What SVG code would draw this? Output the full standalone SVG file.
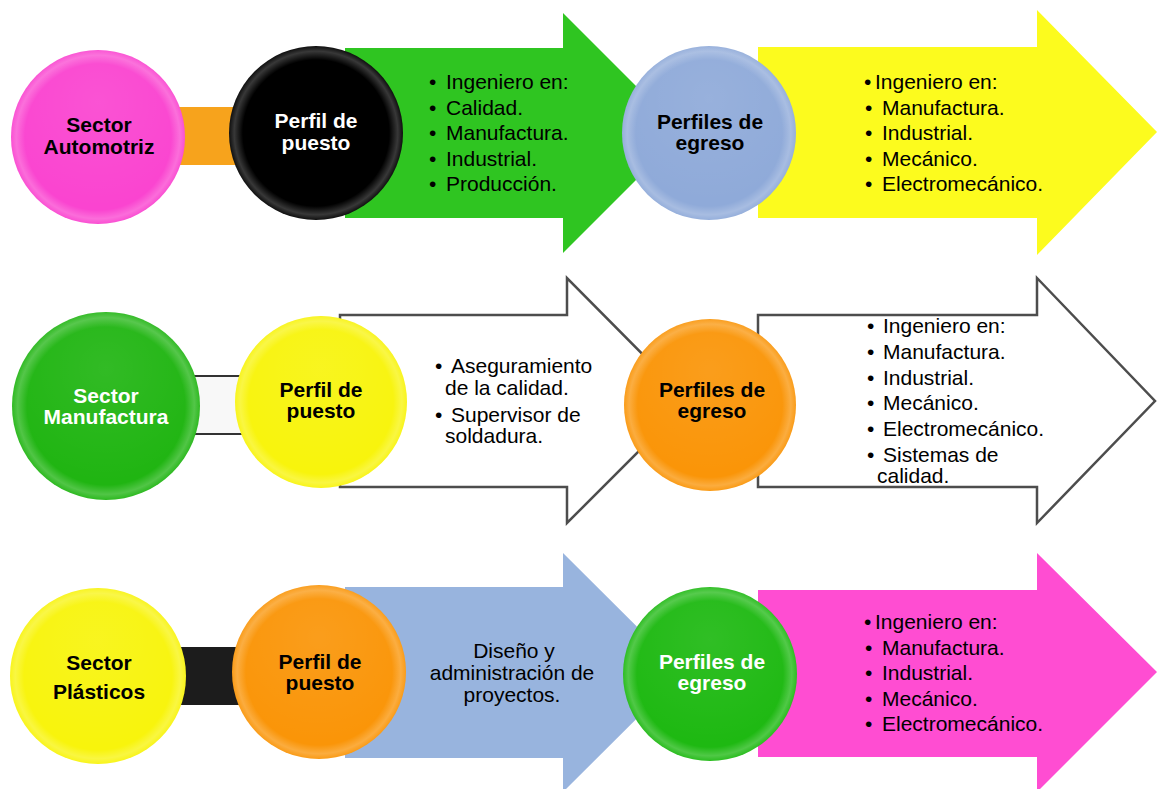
<svg xmlns="http://www.w3.org/2000/svg" width="1157" height="789" viewBox="0 0 1157 789">
<defs>
<radialGradient id="gloss" cx="50%" cy="50%" r="50%">
<stop offset="0.84" stop-color="#ffffff" stop-opacity="0"/>
<stop offset="0.94" stop-color="#ffffff" stop-opacity="0.22"/>
<stop offset="1" stop-color="#ffffff" stop-opacity="0.06"/>
</radialGradient>
<radialGradient id="shine" cx="50%" cy="30%" r="60%">
<stop offset="0" stop-color="#ffffff" stop-opacity="0.08"/>
<stop offset="1" stop-color="#ffffff" stop-opacity="0"/>
</radialGradient>
</defs>
<style>
text{font-family:"Liberation Sans",Arial,Helvetica,sans-serif}
.lbl{font-size:21px;font-weight:bold;text-anchor:middle}
.body{font-size:21px;fill:#000}
.w{fill:#ffffff}
.k{fill:#000000}
.outl{fill:#ffffff;stroke:#4d4d4d;stroke-width:2.5;stroke-linejoin:miter}
.ring{fill:url(#gloss)}
.sh{fill:url(#shine)}
</style>
<rect width="1157" height="789" fill="#ffffff"/>

<g id="connectors">
<rect x="178" y="107" width="62" height="58" fill="#f7a31c"/>
<rect x="190" y="376" width="52" height="58" fill="#f8f8f8"/>
<line x1="190" y1="376" x2="242" y2="376" stroke="#333" stroke-width="2"/>
<line x1="190" y1="434" x2="242" y2="434" stroke="#333" stroke-width="2"/>
<rect x="178" y="647" width="62" height="58" fill="#1c1c1c"/>
</g>

<g id="arrow-r1-puesto">
<polygon points="345,48 563,48 563,13 683,133 563,253 563,218 345,218" fill="#2fc521"/>
<text class="body" x="429" y="89">•</text><text class="body" x="446" y="89">Ingeniero en:</text>
<text class="body" x="429" y="114.5">•</text><text class="body" x="446" y="114.5">Calidad.</text>
<text class="body" x="429" y="140">•</text><text class="body" x="446" y="140">Manufactura.</text>
<text class="body" x="429" y="165.5">•</text><text class="body" x="446" y="165.5">Industrial.</text>
<text class="body" x="429" y="191">•</text><text class="body" x="446" y="191">Producción.</text>
</g>

<g id="arrow-r1-egreso">
<polygon points="758,47 1037,47 1037,10 1157,132 1037,255 1037,218 758,218" fill="#fcfb1e"/>
<text class="body" x="864" y="89">•</text><text class="body" x="875" y="89">Ingeniero en:</text>
<text class="body" x="865" y="114.5">•</text><text class="body" x="882" y="114.5">Manufactura.</text>
<text class="body" x="865" y="140">•</text><text class="body" x="882" y="140">Industrial.</text>
<text class="body" x="865" y="165.5">•</text><text class="body" x="882" y="165.5">Mecánico.</text>
<text class="body" x="865" y="191">•</text><text class="body" x="882" y="191">Electromecánico.</text>
</g>

<g id="arrow-r2-puesto">
<polygon class="outl" points="340,315 567,315 567,278 689,401 567,523 567,487 340,487"/>
<text class="body" x="435" y="373">•</text><text class="body" x="451" y="373">Aseguramiento</text>
<text class="body" x="445" y="395">de la calidad.</text>
<text class="body" x="435" y="422">•</text><text class="body" x="451" y="422">Supervisor de</text>
<text class="body" x="445" y="443">soldadura.</text>
</g>

<g id="arrow-r2-egreso">
<polygon class="outl" points="758,315 1037,315 1037,278 1155,401 1037,523 1037,487 758,487"/>
<text class="body" x="867" y="333">•</text><text class="body" x="883" y="333">Ingeniero en:</text>
<text class="body" x="867" y="359">•</text><text class="body" x="883" y="359">Manufactura.</text>
<text class="body" x="867" y="384.5">•</text><text class="body" x="883" y="384.5">Industrial.</text>
<text class="body" x="867" y="410">•</text><text class="body" x="883" y="410">Mecánico.</text>
<text class="body" x="867" y="436">•</text><text class="body" x="883" y="436">Electromecánico.</text>
<text class="body" x="867" y="461.5">•</text><text class="body" x="883" y="461.5">Sistemas de</text>
<text class="body" x="877" y="483">calidad.</text>
</g>

<g id="arrow-r3-puesto">
<polygon points="345,587 563,587 563,553 683,672.5 563,792 563,758 345,758" fill="#98b4de"/>
<text class="body" x="514" y="658" text-anchor="middle">Diseño y</text>
<text class="body" x="512" y="680" text-anchor="middle">administración de</text>
<text class="body" x="512" y="702" text-anchor="middle">proyectos.</text>
</g>

<g id="arrow-r3-egreso">
<polygon points="758,590 1037,590 1037,553 1157,672 1037,792 1037,757 758,757" fill="#ff4dd2"/>
<text class="body" x="864" y="629">•</text><text class="body" x="875" y="629">Ingeniero en:</text>
<text class="body" x="865" y="654.5">•</text><text class="body" x="882" y="654.5">Manufactura.</text>
<text class="body" x="865" y="680">•</text><text class="body" x="882" y="680">Industrial.</text>
<text class="body" x="865" y="705.5">•</text><text class="body" x="882" y="705.5">Mecánico.</text>
<text class="body" x="865" y="731">•</text><text class="body" x="882" y="731">Electromecánico.</text>
</g>

<g id="sector-automotriz">
<circle cx="98" cy="137" r="87" fill="#fa44d0"/>
<circle cx="98" cy="137" r="87" class="sh"/>
<circle cx="98" cy="137" r="87" class="ring"/>
<text class="lbl k" x="99" y="132">Sector</text>
<text class="lbl k" x="99" y="154">Automotriz</text>
</g>
<g id="perfil-puesto-1">
<circle cx="316" cy="133" r="87" fill="#000000"/>
<circle cx="316" cy="133" r="87" class="ring"/>
<text class="lbl w" x="316" y="128">Perfil de</text>
<text class="lbl w" x="316" y="150">puesto</text>
</g>
<g id="perfiles-egreso-1">
<circle cx="709" cy="133" r="87" fill="#8faad9"/>
<circle cx="709" cy="133" r="87" class="sh"/>
<circle cx="709" cy="133" r="87" class="ring"/>
<text class="lbl k" x="710" y="129">Perfiles de</text>
<text class="lbl k" x="710" y="150">egreso</text>
</g>

<g id="sector-manufactura">
<circle cx="106" cy="406" r="94" fill="#20b512"/>
<circle cx="106" cy="406" r="94" class="sh"/>
<circle cx="106" cy="406" r="94" class="ring"/>
<text class="lbl w" x="106" y="403">Sector</text>
<text class="lbl w" x="106" y="424">Manufactura</text>
</g>
<g id="perfil-puesto-2">
<circle cx="321" cy="402" r="86" fill="#f8f40c"/>
<circle cx="321" cy="402" r="86" class="sh"/>
<circle cx="321" cy="402" r="86" class="ring"/>
<text class="lbl k" x="321" y="397">Perfil de</text>
<text class="lbl k" x="321" y="418">puesto</text>
</g>
<g id="perfiles-egreso-2">
<circle cx="710" cy="405" r="86" fill="#fa9508"/>
<circle cx="710" cy="405" r="86" class="sh"/>
<circle cx="710" cy="405" r="86" class="ring"/>
<text class="lbl k" x="712" y="397">Perfiles de</text>
<text class="lbl k" x="712" y="418">egreso</text>
</g>

<g id="sector-plasticos">
<circle cx="98" cy="676" r="88" fill="#f8f40c"/>
<circle cx="98" cy="676" r="88" class="sh"/>
<circle cx="98" cy="676" r="88" class="ring"/>
<text class="lbl k" x="99" y="670">Sector</text>
<text class="lbl k" x="99" y="699">Plásticos</text>
</g>
<g id="perfil-puesto-3">
<circle cx="319" cy="672" r="87" fill="#fa9508"/>
<circle cx="319" cy="672" r="87" class="sh"/>
<circle cx="319" cy="672" r="87" class="ring"/>
<text class="lbl k" x="320" y="669">Perfil de</text>
<text class="lbl k" x="320" y="690">puesto</text>
</g>
<g id="perfiles-egreso-3">
<circle cx="710" cy="674" r="87" fill="#1eb912"/>
<circle cx="710" cy="674" r="87" class="sh"/>
<circle cx="710" cy="674" r="87" class="ring"/>
<text class="lbl w" x="712" y="669">Perfiles de</text>
<text class="lbl w" x="712" y="690">egreso</text>
</g>
</svg>
